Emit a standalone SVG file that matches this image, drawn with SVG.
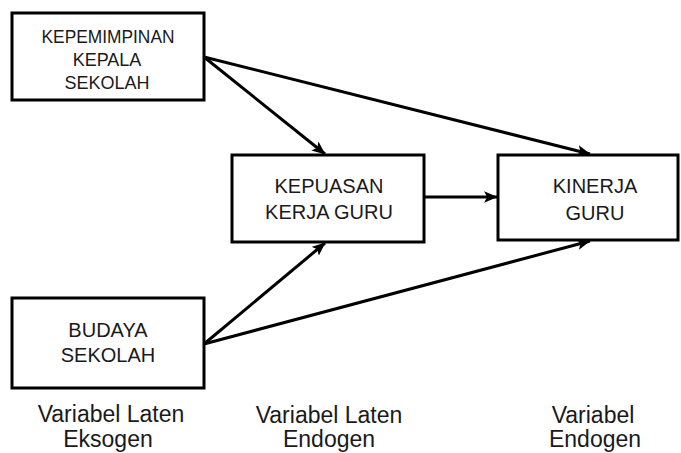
<svg xmlns="http://www.w3.org/2000/svg" width="681" height="453" viewBox="0 0 681 453">
<style>
.box{fill:#fff;stroke:#000;stroke-width:3}
.t{font-family:"Liberation Sans",Arial,sans-serif;fill:#1a1a1a;text-anchor:middle}
.n{font-size:20px}
.s{font-size:18px}
.lbl{font-size:23px}
.c{stroke:#000;stroke-width:3;fill:none;marker-end:url(#ah)}
</style>
<defs>
<marker id="ah" markerWidth="6" markerHeight="5" refX="4.3" refY="1.9" orient="auto" markerUnits="strokeWidth">
<path d="M0,0 L4.5,1.9 L0,3.8 L1,1.9 Z" fill="#000"/>
</marker>
</defs>
<g id="connectors">
<line class="c" x1="204" y1="57" x2="325" y2="154"/>
<line class="c" x1="204" y1="57" x2="590" y2="154"/>
<line class="c" x1="204" y1="344" x2="325" y2="243"/>
<line class="c" x1="204" y1="344" x2="590" y2="241"/>
<line class="c" x1="424" y1="197" x2="497" y2="197"/>
</g>
<g id="n1">
<rect class="box" x="12" y="13" width="192" height="87"/>
<text class="t s" x="108" y="43" textLength="133" lengthAdjust="spacingAndGlyphs">KEPEMIMPINAN</text>
<text class="t s" x="107" y="66">KEPALA</text>
<text class="t s" x="107" y="89">SEKOLAH</text>
</g>
<g id="n2">
<rect class="box" x="232" y="155" width="192" height="87"/>
<text class="t n" x="329" y="193">KEPUASAN</text>
<text class="t n" x="329" y="219">KERJA GURU</text>
</g>
<g id="n3">
<rect class="box" x="498" y="155" width="180" height="85"/>
<text class="t n" x="595" y="193">KINERJA</text>
<text class="t n" x="595" y="220">GURU</text>
</g>
<g id="n4">
<rect class="box" x="12" y="298" width="192" height="90"/>
<text class="t n" x="108" y="337">BUDAYA</text>
<text class="t n" x="108" y="362">SEKOLAH</text>
</g>
<g id="labels">
<text class="t lbl" x="111" y="422">Variabel Laten</text>
<text class="t lbl" x="108" y="447">Eksogen</text>
<text class="t lbl" x="329" y="423">Variabel Laten</text>
<text class="t lbl" x="329" y="447">Endogen</text>
<text class="t lbl" x="593" y="423">Variabel</text>
<text class="t lbl" x="595" y="447">Endogen</text>
</g>
</svg>
